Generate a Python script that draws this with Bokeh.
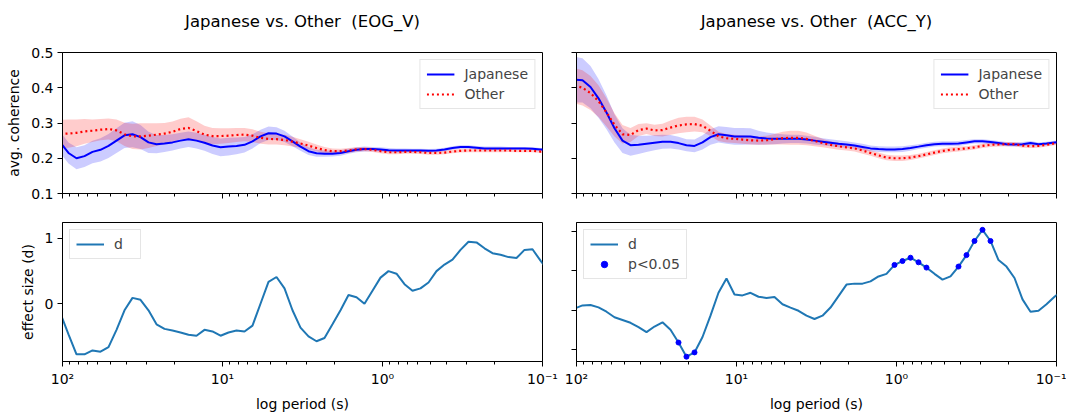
from bokeh.plotting import figure
from bokeh.models import Range1d, FixedTicker, CustomJSTickFormatter, ColumnDataSource, LogAxis
from bokeh.layouts import column, row
from bokeh.embed import file_html
from bokeh.resources import INLINE

# ---------------- data ----------------
PERIOD = [102.92, 91.73, 81.75, 72.86, 64.94, 57.88, 51.58, 45.97, 40.97, 36.52,
          32.55, 29.01, 25.85, 23.04, 20.54, 18.30, 16.31, 14.54, 12.96, 11.55,
          10.29, 9.173, 8.175, 7.286, 6.494, 5.788, 5.158, 4.597, 4.097, 3.652,
          3.255, 2.901, 2.585, 2.304, 2.054, 1.830, 1.631, 1.454, 1.296, 1.155,
          1.029, 0.9173, 0.8175, 0.7286, 0.6494, 0.5788, 0.5158, 0.4597, 0.4097, 0.3652,
          0.3255, 0.2901, 0.2585, 0.2304, 0.2054, 0.1830, 0.1631, 0.1454, 0.1296, 0.1155,
          0.1029, 0.09173]

EOG_JAPANESE = [0.244, 0.215, 0.200, 0.206, 0.218, 0.224, 0.235, 0.250, 0.265, 0.268,
                0.260, 0.245, 0.240, 0.242, 0.245, 0.250, 0.254, 0.250, 0.244, 0.236,
                0.231, 0.233, 0.235, 0.238, 0.248, 0.262, 0.271, 0.270, 0.262, 0.248,
                0.233, 0.220, 0.214, 0.213, 0.213, 0.215, 0.220, 0.224, 0.226, 0.226,
                0.225, 0.223, 0.222, 0.222, 0.222, 0.222, 0.221, 0.222, 0.225, 0.229,
                0.232, 0.232, 0.230, 0.228, 0.228, 0.228, 0.228, 0.228, 0.228, 0.227,
                0.225, 0.224]
EOG_JAPANESE_SEM = [0.030, 0.030, 0.031, 0.031, 0.032, 0.033, 0.034, 0.035, 0.036, 0.037,
                    0.034, 0.030, 0.026, 0.024, 0.023, 0.022, 0.022, 0.022, 0.023, 0.024,
                    0.025, 0.025, 0.024, 0.022, 0.020, 0.019, 0.019, 0.018, 0.016, 0.014,
                    0.012, 0.011, 0.010, 0.009, 0.008, 0.008, 0.007, 0.007, 0.007, 0.006,
                    0.006, 0.006, 0.006, 0.006, 0.005, 0.005, 0.005, 0.005, 0.005, 0.005,
                    0.005, 0.005, 0.005, 0.005, 0.005, 0.005, 0.004, 0.004, 0.004, 0.004,
                    0.004, 0.004]
EOG_OTHER = [0.269, 0.270, 0.272, 0.276, 0.278, 0.281, 0.283, 0.279, 0.268, 0.262,
             0.262, 0.264, 0.267, 0.270, 0.275, 0.283, 0.286, 0.277, 0.267, 0.263,
             0.263, 0.264, 0.266, 0.267, 0.264, 0.258, 0.255, 0.254, 0.252, 0.247,
             0.242, 0.236, 0.229, 0.223, 0.220, 0.220, 0.222, 0.225, 0.226, 0.224,
             0.220, 0.217, 0.217, 0.218, 0.218, 0.217, 0.215, 0.215, 0.216, 0.219,
             0.221, 0.222, 0.222, 0.222, 0.222, 0.222, 0.222, 0.221, 0.221, 0.221,
             0.219, 0.219]
EOG_OTHER_SEM = [0.040, 0.040, 0.038, 0.035, 0.032, 0.030, 0.030, 0.031, 0.033, 0.036,
                 0.037, 0.035, 0.032, 0.030, 0.029, 0.029, 0.030, 0.028, 0.025, 0.023,
                 0.022, 0.021, 0.020, 0.019, 0.018, 0.017, 0.016, 0.015, 0.015, 0.014,
                 0.012, 0.011, 0.010, 0.009, 0.008, 0.007, 0.007, 0.006, 0.006, 0.006,
                 0.006, 0.006, 0.006, 0.005, 0.005, 0.005, 0.005, 0.005, 0.005, 0.005,
                 0.005, 0.005, 0.005, 0.005, 0.005, 0.005, 0.004, 0.004, 0.004, 0.004,
                 0.004, 0.004]

ACC_JAPANESE = [0.423, 0.421, 0.402, 0.370, 0.330, 0.285, 0.250, 0.237, 0.238, 0.241,
                0.244, 0.247, 0.247, 0.243, 0.237, 0.235, 0.245, 0.260, 0.268, 0.265,
                0.262, 0.262, 0.262, 0.258, 0.256, 0.255, 0.255, 0.255, 0.255, 0.253,
                0.250, 0.247, 0.244, 0.241, 0.239, 0.236, 0.232, 0.228, 0.226, 0.225,
                0.225, 0.226, 0.229, 0.233, 0.237, 0.240, 0.241, 0.241, 0.242, 0.245,
                0.248, 0.248, 0.246, 0.243, 0.240, 0.239, 0.240, 0.243, 0.240, 0.242,
                0.245, 0.246]
ACC_JAPANESE_SEM = [0.065, 0.063, 0.060, 0.055, 0.048, 0.040, 0.035, 0.030, 0.026, 0.023,
                    0.021, 0.020, 0.019, 0.018, 0.017, 0.018, 0.020, 0.022, 0.023, 0.024,
                    0.024, 0.024, 0.023, 0.020, 0.017, 0.015, 0.013, 0.012, 0.012, 0.011,
                    0.011, 0.010, 0.010, 0.010, 0.009, 0.009, 0.009, 0.008, 0.008, 0.008,
                    0.008, 0.008, 0.008, 0.007, 0.007, 0.007, 0.007, 0.007, 0.007, 0.007,
                    0.006, 0.006, 0.006, 0.006, 0.006, 0.006, 0.006, 0.006, 0.005, 0.005,
                    0.005, 0.005]
ACC_OTHER = [0.406, 0.400, 0.385, 0.362, 0.330, 0.295, 0.268, 0.266, 0.280, 0.284,
             0.279, 0.280, 0.287, 0.293, 0.296, 0.297, 0.292, 0.278, 0.262, 0.257,
             0.255, 0.253, 0.251, 0.250, 0.251, 0.254, 0.257, 0.258, 0.258, 0.255,
             0.249, 0.243, 0.238, 0.234, 0.231, 0.228, 0.222, 0.215, 0.208, 0.202,
             0.200, 0.200, 0.202, 0.206, 0.211, 0.216, 0.221, 0.224, 0.226, 0.228,
             0.231, 0.235, 0.238, 0.239, 0.240, 0.240, 0.236, 0.234, 0.235, 0.238,
             0.242, 0.243]
ACC_OTHER_SEM = [0.050, 0.050, 0.048, 0.045, 0.040, 0.033, 0.026, 0.020, 0.017, 0.015,
                 0.016, 0.018, 0.020, 0.022, 0.022, 0.021, 0.018, 0.015, 0.013, 0.012,
                 0.012, 0.012, 0.012, 0.012, 0.013, 0.015, 0.018, 0.020, 0.020, 0.018,
                 0.015, 0.012, 0.010, 0.010, 0.009, 0.009, 0.009, 0.008, 0.008, 0.008,
                 0.008, 0.008, 0.007, 0.007, 0.007, 0.007, 0.007, 0.007, 0.007, 0.006,
                 0.006, 0.006, 0.006, 0.006, 0.006, 0.006, 0.006, 0.005, 0.005, 0.005,
                 0.005, 0.005]

D_EOG = [-0.15, -0.47, -0.775, -0.775, -0.715, -0.735, -0.665, -0.40, -0.10, 0.09,
         0.06, -0.10, -0.315, -0.385, -0.41, -0.44, -0.475, -0.49, -0.40, -0.425,
         -0.49, -0.44, -0.41, -0.425, -0.335, 0.0, 0.335, 0.41, 0.235, -0.10,
         -0.365, -0.50, -0.575, -0.525, -0.315, -0.10, 0.135, 0.10, 0.0, 0.20,
         0.40, 0.50, 0.46, 0.30, 0.20, 0.235, 0.325, 0.50, 0.60, 0.675,
         0.825, 0.95, 0.94, 0.85, 0.775, 0.75, 0.715, 0.70, 0.825, 0.835,
         0.66, 0.50]
D_ACC = [0.02, 0.06, 0.065, 0.035, -0.02, -0.09, -0.125, -0.16, -0.216, -0.278,
         -0.207, -0.154, -0.249, -0.41, -0.589, -0.535, -0.34, -0.07, 0.22, 0.40,
         0.199, 0.187, 0.22, 0.17, 0.154, 0.166, 0.075, 0.033, -0.008, -0.07,
         -0.112, -0.07, 0.033, 0.178, 0.324, 0.336, 0.336, 0.365, 0.427, 0.46,
         0.573, 0.622, 0.664, 0.606, 0.539, 0.46, 0.386, 0.427, 0.552, 0.697,
         0.876, 1.017, 0.876, 0.635, 0.552, 0.407, 0.137, -0.02, -0.008, 0.075,
         0.17, 0.25]
D_ACC_SIGNIFICANT = [13, 14, 15, 40, 41, 42, 43, 44, 48, 49, 50, 51, 52]

X_TICKS = [100, 10, 1, 0.1]
X_TICK_LABELS = ["10\u00b2", "10\u00b9", "10\u2070", "10\u207b\u00b9"]
X_MINOR = [m * s for s in (0.1, 1, 10) for m in range(2, 10)]
COH_TICKS = [0.1, 0.2, 0.3, 0.4, 0.5]
D_EOG_TICKS = [0, 1]
D_ACC_TICKS = [-0.5, 0, 0.5, 1.0]

TITLES = ["Japanese vs. Other\u00a0 (EOG_V)", "Japanese vs. Other\u00a0 (ACC_Y)"]

FONT = "DejaVu Sans"
FS = "14px"
BLUE = "#0000ff"
RED = "#ff0000"
C0 = "#1f77b4"

blank = CustomJSTickFormatter(code="return '';")
xfmt = CustomJSTickFormatter(args=dict(vals=X_TICKS, labs=X_TICK_LABELS), code="""
for (let i = 0; i < vals.length; i++) {
  if (Math.abs(Math.log10(tick) - Math.log10(vals[i])) < 1e-6) return labs[i];
}
return '';
""")


def make_fig(width, height, left, right, top, bottom, yr, yticks, show_x, show_y):
    p = figure(width=width, height=height, x_axis_type="log",
               x_range=Range1d(100, 0.1), y_range=Range1d(*yr),
               output_backend="svg", toolbar_location=None,
               min_border_left=left, min_border_right=right,
               min_border_top=top, min_border_bottom=bottom)
    p.outline_line_color = "black"
    p.outline_line_alpha = 1
    p.outline_line_width = 1
    p.xgrid.visible = False
    p.ygrid.visible = False
    for ax in (p.xaxis[0], p.yaxis[0]):
        ax.axis_line_color = "black"
        ax.major_tick_line_color = "black"
        ax.minor_tick_line_color = "black"
        ax.major_tick_out = 5
        ax.major_tick_in = 0
        ax.minor_tick_out = 3
        ax.minor_tick_in = 0
        ax.major_label_text_font = FONT
        ax.major_label_text_font_size = FS
        ax.major_label_text_color = "black"
        ax.axis_label_text_font = FONT
        ax.axis_label_text_font_size = FS
        ax.axis_label_text_font_style = "normal"
        ax.axis_label_text_color = "black"
        ax.major_label_standoff = 4
        ax.axis_label_standoff = 6
    p.xaxis[0].ticker = FixedTicker(ticks=X_TICKS, minor_ticks=X_MINOR)
    p.xaxis[0].formatter = xfmt if show_x else blank
    p.yaxis[0].ticker = FixedTicker(ticks=yticks)
    p.yaxis[0].minor_tick_line_color = None
    if not show_y:
        p.yaxis[0].formatter = blank
    return p


def add_title(p, text):
    # the panel title is drawn as the label of a bare axis above the frame
    t = LogAxis(ticker=FixedTicker(ticks=[]), formatter=blank, axis_label=text,
                axis_line_color=None, major_tick_line_color=None, minor_tick_line_color=None,
                major_tick_out=0, major_tick_in=0, minor_tick_out=0, minor_tick_in=0,
                major_label_standoff=0, axis_label_standoff=22,
                axis_label_text_font=FONT, axis_label_text_font_size="16.5px",
                axis_label_text_font_style="normal", axis_label_text_color="black")
    p.add_layout(t, "above")


def style_legend(p, loc):
    lg = p.legend[0]
    lg.location = loc
    lg.margin = 7
    lg.padding = 6
    lg.spacing = 4
    lg.glyph_width = 28
    lg.glyph_height = 16
    lg.label_height = 16
    lg.label_standoff = 10
    lg.label_text_font = FONT
    lg.label_text_font_size = FS
    lg.border_line_color = "#cccccc"
    lg.border_line_width = 1
    lg.background_fill_alpha = 0.8


def coherence_panel(p, jp, jp_sem, ot, ot_sem):
    src = ColumnDataSource(dict(
        x=PERIOD, jp=jp, ot=ot,
        jp_lo=[m - s for m, s in zip(jp, jp_sem)], jp_hi=[m + s for m, s in zip(jp, jp_sem)],
        ot_lo=[m - s for m, s in zip(ot, ot_sem)], ot_hi=[m + s for m, s in zip(ot, ot_sem)]))
    p.varea(x="x", y1="jp_lo", y2="jp_hi", source=src, fill_color=BLUE, fill_alpha=0.2)
    p.varea(x="x", y1="ot_lo", y2="ot_hi", source=src, fill_color=RED, fill_alpha=0.2)
    p.line(x="x", y="jp", source=src, line_color=BLUE, line_width=2, legend_label="Japanese")
    p.line(x="x", y="ot", source=src, line_color=RED, line_width=2.2, line_dash="2 3",
           legend_label="Other")
    style_legend(p, "top_right")


# top-left
p1 = make_fig(559, 207, 62, 17, 52, 14, (0.1, 0.5), COH_TICKS, False, True)
p1.yaxis[0].axis_label = "avg. coherence"
coherence_panel(p1, EOG_JAPANESE, EOG_JAPANESE_SEM, EOG_OTHER, EOG_OTHER_SEM)
add_title(p1, TITLES[0])

# top-right
p2 = make_fig(507, 207, 17, 10, 52, 14, (0.1, 0.5), COH_TICKS, False, False)
coherence_panel(p2, ACC_JAPANESE, ACC_JAPANESE_SEM, ACC_OTHER, ACC_OTHER_SEM)
add_title(p2, TITLES[1])

# bottom-left
p3 = make_fig(559, 207, 62, 17, 15, 50, (-0.885, 1.245), D_EOG_TICKS, True, True)
p3.yaxis[0].axis_label = "effect size (d)"
p3.xaxis[0].axis_label = "log period (s)"
p3.line(PERIOD, D_EOG, line_color=C0, line_width=2, legend_label="d")
style_legend(p3, "top_left")

# bottom-right
p4 = make_fig(507, 207, 17, 10, 15, 50, (-0.65, 1.11), D_ACC_TICKS, True, False)
p4.xaxis[0].axis_label = "log period (s)"
p4.line(PERIOD, D_ACC, line_color=C0, line_width=2, legend_label="d")
sig_x = [PERIOD[i] for i in D_ACC_SIGNIFICANT]
sig_y = [D_ACC[i] for i in D_ACC_SIGNIFICANT]
p4.scatter(sig_x, sig_y, size=5, fill_color=BLUE, line_color=BLUE, legend_label="p<0.05")
style_legend(p4, "top_left")

layout = column(row(p1, p2), row(p3, p4))
open("out.html", "w").write(file_html(layout, INLINE))
